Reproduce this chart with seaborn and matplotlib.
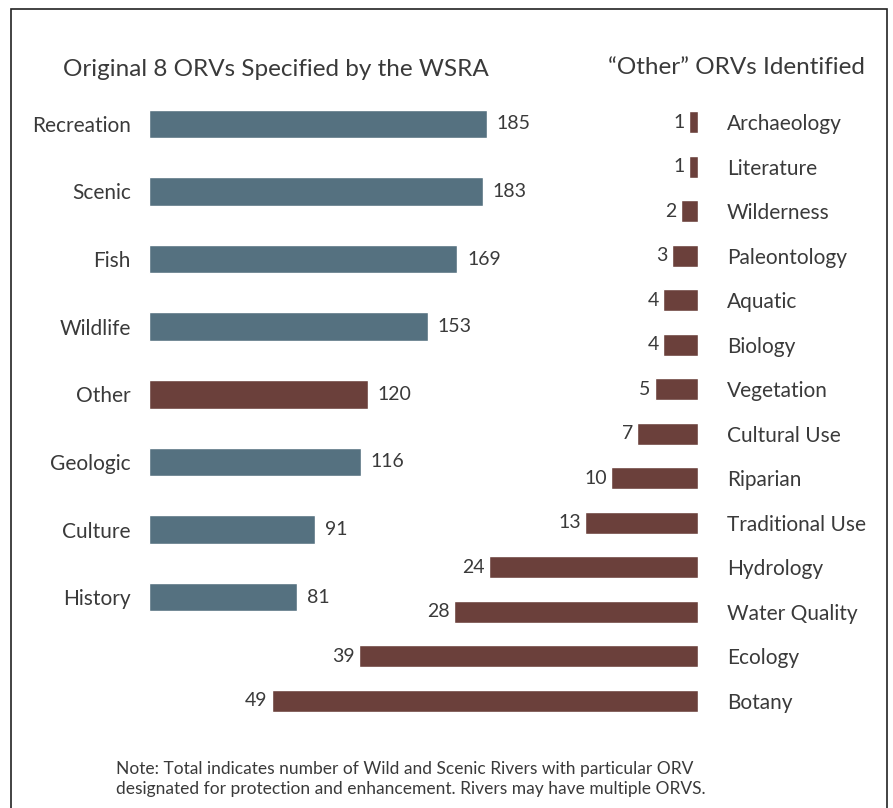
import matplotlib
matplotlib.use('Agg')
import matplotlib.pyplot as plt
import seaborn as sns
from matplotlib.patches import Rectangle

# Original 8 ORVs (left panel)
orig_cats = ['Recreation', 'Scenic', 'Fish', 'Wildlife', 'Other', 'Geologic', 'Culture', 'History']
orig_vals = [185, 183, 169, 153, 120, 116, 91, 81]

# "Other" ORVs (right panel)
other_cats = ['Archaeology', 'Literature', 'Wilderness', 'Paleontology', 'Aquatic', 'Biology',
              'Vegetation', 'Cultural Use', 'Riparian', 'Traditional Use', 'Hydrology',
              'Water Quality', 'Ecology', 'Botany']
other_vals = [1, 1, 2, 3, 4, 4, 5, 7, 10, 13, 24, 28, 39, 49]

teal = '#557180'
brown = '#6b403b'
txt = '#3a3a3a'

sns.set_style('white')
plt.rcParams['font.family'] = ['Lato', 'DejaVu Sans']

W, H = 893, 808
fig = plt.figure(figsize=(W / 100, H / 100), dpi=100)

def px_axes(x0, y0, x1, y1):
    return fig.add_axes([x0 / W, 1 - y1 / H, (x1 - x0) / W, (y1 - y0) / H])

# left panel
ax1 = px_axes(149, 90, 514, 631)
pal = [brown if c == 'Other' else teal for c in orig_cats]
sns.barplot(x=orig_vals, y=orig_cats, hue=orig_cats, palette=pal, legend=False,
            width=0.42, saturation=1, ax=ax1)
ax1.set_xlim(0, 200)
for cont in ax1.containers:
    ax1.bar_label(cont, padding=7, fontsize=14, color=txt)
ax1.tick_params(axis='y', length=0, pad=13, labelsize=15, labelcolor=txt)
ax1.set_xticks([])
ax1.set_xlabel('')
ax1.set_ylabel('')
sns.despine(ax=ax1, left=True, bottom=True)
ax1.patch.set_visible(False)

# right panel
ax2 = px_axes(263, 100, 698, 723)
sns.barplot(x=other_vals, y=other_cats, color=brown, width=0.5, saturation=1, ax=ax2)
ax2.set_xlim(50, 0)
for cont in ax2.containers:
    ax2.bar_label(cont, padding=3, fontsize=14, color=txt)
ax2.yaxis.tick_right()
ax2.tick_params(axis='y', length=0, pad=21, labelsize=15, labelcolor=txt)
ax2.set_xticks([])
ax2.set_xlabel('')
ax2.set_ylabel('')
sns.despine(ax=ax2, left=True, bottom=True)
ax2.patch.set_visible(False)

# titles and note
fig.text(276 / W, 1 - 70 / H, 'Original 8 ORVs Specified by the WSRA', ha='center', va='center',
         fontsize=17.5, color=txt)
fig.text(736 / W, 1 - 68 / H, '\u201cOther\u201d ORVs Identified', ha='center', va='center',
         fontsize=17.5, color=txt)
fig.text(116 / W, 1 - 779 / H,
         'Note: Total indicates number of Wild and Scenic Rivers with particular ORV\n'
         'designated for protection and enhancement. Rivers may have multiple ORVS.',
         ha='left', va='center', fontsize=12.5, color=txt, linespacing=1.35)

# frame
fig.patches.append(Rectangle((11 / W, -0.02), 876 / W, 1.02 - 9 / H, transform=fig.transFigure,
                             fill=False, edgecolor='#222222', linewidth=1.2))

fig.savefig('out.png', dpi=100)
